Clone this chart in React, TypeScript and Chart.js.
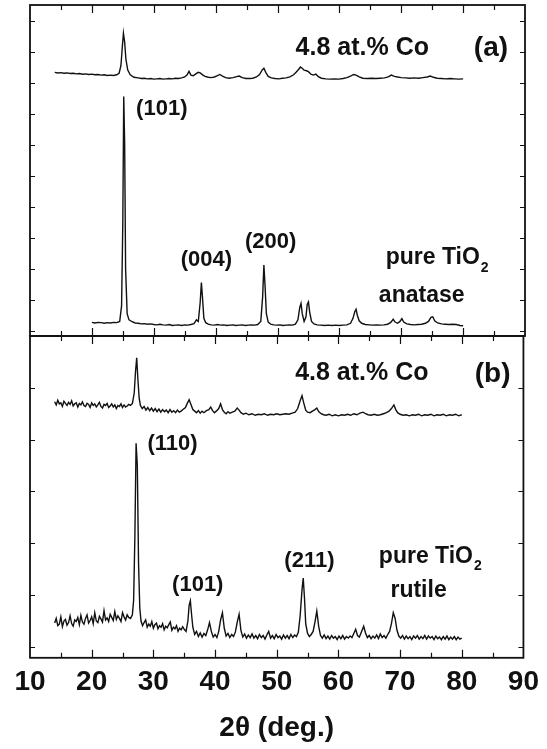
import React, { useEffect, useRef } from 'react';
import { Chart, registerables } from 'chart.js';

Chart.register(...registerables);

const FONT = '"Liberation Sans", Arial, Helvetica, sans-serif';
const INK = '#111111';

// ---------- x axis ----------
const xMin = 10;
const xMax = 90;
const xTickStep = 10;
const xTickMarks = [15, 20, 25, 30, 35, 40, 45, 50, 55, 60, 65, 70, 75, 80, 85];

// ---------- panel (a): anatase ----------
const anataseCoX = [14.0, 14.5, 15.0, 15.5, 16.0, 16.5, 17.0, 17.5, 18.0, 18.5, 19.0, 19.5, 20.0, 20.5, 21.0, 21.5, 22.0, 22.5, 23.0, 23.5, 24.0, 24.4, 24.7, 24.9, 25.1, 25.3, 25.5, 25.8, 26.2, 26.8, 27.5, 28.0, 28.5, 29.0, 29.5, 30.0, 30.5, 31.0, 31.5, 32.0, 32.5, 33.0, 33.5, 34.0, 34.5, 35.0, 35.4, 35.7, 36.0, 36.4, 36.8, 37.2, 37.5, 37.9, 38.3, 38.8, 39.3, 39.8, 40.3, 40.7, 41.1, 41.6, 42.2, 42.8, 43.4, 43.8, 44.3, 44.9, 45.5, 46.0, 46.6, 47.1, 47.5, 47.8, 48.1, 48.5, 49.0, 49.6, 50.2, 50.8, 51.4, 52.0, 52.6, 53.0, 53.4, 53.7, 54.0, 54.3, 54.7, 55.0, 55.4, 55.8, 56.2, 56.6, 57.1, 57.8, 58.5, 59.2, 59.9, 60.6, 61.2, 61.8, 62.3, 62.7, 63.2, 63.8, 64.5, 65.2, 65.9, 66.6, 67.3, 67.9, 68.4, 68.9, 69.4, 70.0, 70.7, 71.4, 72.1, 72.8, 73.5, 74.2, 74.7, 75.2, 75.8, 76.5, 77.2, 77.9, 78.6, 79.3, 80.0];
const anataseCoY = [8.33, 8.31, 8.32, 8.30, 8.31, 8.29, 8.30, 8.28, 8.29, 8.27, 8.28, 8.26, 8.27, 8.25, 8.26, 8.24, 8.25, 8.23, 8.24, 8.23, 8.25, 8.30, 8.55, 9.10, 9.59, 9.30, 8.75, 8.40, 8.25, 8.17, 8.15, 8.13, 8.14, 8.12, 8.13, 8.11, 8.12, 8.13, 8.11, 8.12, 8.13, 8.12, 8.14, 8.13, 8.15, 8.18, 8.25, 8.36, 8.24, 8.22, 8.28, 8.33, 8.31, 8.25, 8.20, 8.17, 8.16, 8.18, 8.22, 8.26, 8.21, 8.16, 8.14, 8.16, 8.19, 8.21, 8.16, 8.13, 8.13, 8.14, 8.18, 8.26, 8.40, 8.46, 8.33, 8.20, 8.15, 8.13, 8.12, 8.14, 8.15, 8.18, 8.25, 8.33, 8.42, 8.50, 8.46, 8.40, 8.38, 8.35, 8.27, 8.24, 8.27, 8.19, 8.14, 8.12, 8.11, 8.12, 8.11, 8.13, 8.16, 8.21, 8.26, 8.24, 8.18, 8.14, 8.13, 8.14, 8.13, 8.14, 8.15, 8.18, 8.24, 8.20, 8.18, 8.16, 8.15, 8.14, 8.15, 8.14, 8.16, 8.18, 8.21, 8.17, 8.14, 8.13, 8.12, 8.13, 8.12, 8.11, 8.12];

const anataseX = [20.0, 20.5, 21.0, 21.5, 22.0, 22.5, 23.0, 23.5, 24.0, 24.5, 24.8, 25.0, 25.15, 25.3, 25.45, 25.7, 26.0, 26.5, 27.0, 27.5, 28.0, 28.5, 29.0, 29.5, 30.0, 30.5, 31.0, 31.5, 32.0, 32.5, 33.0, 33.5, 34.0, 34.5, 35.0, 35.5, 36.0, 36.5, 36.9, 37.2, 37.5, 37.7, 37.9, 38.1, 38.4, 38.8, 39.3, 39.8, 40.3, 40.8, 41.3, 41.8, 42.3, 42.8, 43.3, 43.8, 44.3, 44.8, 45.3, 45.8, 46.3, 46.8, 47.3, 47.6, 47.8, 48.0, 48.2, 48.5, 48.9, 49.4, 49.9, 50.4, 50.9, 51.4, 51.9, 52.4, 52.9, 53.3, 53.6, 53.8, 54.0, 54.3, 54.6, 54.8, 55.0, 55.2, 55.5, 55.9, 56.4, 57.0, 57.6, 58.2, 58.8, 59.4, 60.0, 60.6, 61.2, 61.8, 62.2, 62.5, 62.7, 62.9, 63.2, 63.6, 64.2, 64.8, 65.4, 66.0, 66.6, 67.2, 67.8, 68.3, 68.7, 69.0, 69.4, 69.8, 70.1, 70.4, 70.9, 71.5, 72.1, 72.7, 73.3, 73.9, 74.4, 74.8, 75.1, 75.4, 75.9, 76.5, 77.1, 77.7, 78.3, 78.9, 79.5, 80.0];
const anataseY = [0.27, 0.25, 0.27, 0.26, 0.24, 0.26, 0.25, 0.27, 0.26, 0.30, 0.80, 3.50, 7.55, 6.00, 2.00, 0.55, 0.35, 0.29, 0.25, 0.24, 0.22, 0.23, 0.21, 0.22, 0.20, 0.19, 0.21, 0.19, 0.18, 0.20, 0.17, 0.18, 0.19, 0.17, 0.19, 0.18, 0.20, 0.23, 0.35, 0.30, 0.90, 1.55, 1.00, 0.40, 0.26, 0.21, 0.19, 0.18, 0.20, 0.18, 0.19, 0.17, 0.18, 0.19, 0.17, 0.18, 0.19, 0.17, 0.18, 0.19, 0.18, 0.20, 0.30, 1.10, 2.12, 1.40, 0.55, 0.28, 0.21, 0.19, 0.18, 0.19, 0.17, 0.18, 0.19, 0.18, 0.21, 0.35, 0.75, 0.88, 0.55, 0.30, 0.45, 0.85, 0.93, 0.60, 0.30, 0.22, 0.19, 0.18, 0.17, 0.18, 0.17, 0.18, 0.17, 0.18, 0.19, 0.24, 0.40, 0.62, 0.69, 0.50, 0.32, 0.24, 0.20, 0.19, 0.18, 0.19, 0.18, 0.19, 0.21, 0.27, 0.37, 0.28, 0.24, 0.30, 0.39, 0.28, 0.22, 0.20, 0.19, 0.20, 0.21, 0.24, 0.30, 0.43, 0.45, 0.32, 0.25, 0.22, 0.21, 0.20, 0.21, 0.20, 0.17, 0.16];

const panelAMin = -0.17;
const panelAMax = 10.5;
const panelATicks = [0, 1, 2, 3, 4, 5, 6, 7, 8, 9, 10];

// ---------- panel (b): rutile ----------
const rutileCoX = [14.0, 14.25, 14.5, 14.75, 15.0, 15.25, 15.5, 15.75, 16.0, 16.25, 16.5, 16.75, 17.0, 17.25, 17.5, 17.75, 18.0, 18.25, 18.5, 18.75, 19.0, 19.25, 19.5, 19.75, 20.0, 20.25, 20.5, 20.75, 21.0, 21.25, 21.5, 21.75, 22.0, 22.25, 22.5, 22.75, 23.0, 23.25, 23.5, 23.75, 24.0, 24.25, 24.5, 24.75, 25.0, 25.25, 25.5, 25.75, 26.0, 26.3, 26.6, 26.9, 27.1, 27.3, 27.5, 27.7, 27.9, 28.2, 28.5, 28.8, 29.1, 29.4, 29.7, 30.0, 30.3, 30.6, 30.9, 31.2, 31.5, 31.8, 32.1, 32.4, 32.7, 33.0, 33.3, 33.6, 33.9, 34.2, 34.5, 34.8, 35.2, 35.5, 35.8, 36.1, 36.4, 36.7, 37.0, 37.3, 37.6, 37.9, 38.2, 38.6, 39.0, 39.3, 39.6, 39.9, 40.2, 40.6, 40.9, 41.2, 41.5, 41.8, 42.1, 42.4, 42.8, 43.2, 43.6, 43.9, 44.2, 44.6, 45.0, 45.5, 46.0, 46.5, 47.0, 47.5, 48.0, 48.5, 49.0, 49.5, 50.0, 50.5, 51.0, 51.5, 52.0, 52.5, 53.0, 53.4, 53.8, 54.1, 54.4, 54.7, 55.0, 55.4, 55.8, 56.2, 56.5, 56.8, 57.2, 57.6, 58.0, 58.5, 59.0, 59.5, 60.0, 60.5, 61.0, 61.5, 62.0, 62.5, 63.0, 63.5, 64.0, 64.4, 64.8, 65.3, 65.8, 66.3, 66.8, 67.3, 67.8, 68.2, 68.6, 69.0, 69.3, 69.6, 70.0, 70.5, 71.0, 71.5, 72.0, 72.5, 73.0, 73.5, 74.0, 74.5, 75.0, 75.5, 76.0, 76.5, 77.0, 77.5, 78.0, 78.5, 79.0, 79.5, 80.0];
const rutileCoY = [4.73, 4.67, 4.76, 4.69, 4.71, 4.64, 4.74, 4.70, 4.66, 4.72, 4.68, 4.75, 4.65, 4.69, 4.71, 4.63, 4.70, 4.67, 4.73, 4.66, 4.64, 4.70, 4.68, 4.62, 4.71, 4.66, 4.69, 4.63, 4.67, 4.72, 4.64, 4.61, 4.68, 4.66, 4.70, 4.62, 4.65, 4.69, 4.63, 4.67, 4.60, 4.66, 4.64, 4.69, 4.62, 4.67, 4.63, 4.65, 4.68, 4.66, 4.70, 4.90, 5.30, 5.58, 5.15, 4.80, 4.66, 4.60, 4.64, 4.57, 4.62, 4.56, 4.61, 4.55, 4.60, 4.54, 4.59, 4.53, 4.58, 4.54, 4.57, 4.52, 4.58, 4.53, 4.56, 4.52, 4.57, 4.53, 4.55, 4.58, 4.62, 4.70, 4.77, 4.68, 4.58, 4.55, 4.52, 4.56, 4.51, 4.55, 4.52, 4.56, 4.58, 4.63, 4.56, 4.52, 4.55, 4.60, 4.69, 4.58, 4.53, 4.50, 4.54, 4.51, 4.53, 4.55, 4.61, 4.57, 4.52, 4.49, 4.51, 4.48, 4.50, 4.47, 4.49, 4.48, 4.50, 4.47, 4.49, 4.48, 4.50, 4.48, 4.49, 4.50, 4.49, 4.51, 4.53, 4.60, 4.75, 4.85, 4.70, 4.57, 4.53, 4.52, 4.55, 4.58, 4.61, 4.54, 4.50, 4.48, 4.47, 4.49, 4.46, 4.48, 4.46, 4.48, 4.47, 4.49, 4.47, 4.50, 4.48, 4.51, 4.53, 4.50, 4.48, 4.47, 4.49, 4.47, 4.48, 4.50, 4.52, 4.55, 4.60, 4.67, 4.58, 4.52, 4.49, 4.47, 4.48, 4.46, 4.48, 4.47, 4.49, 4.46, 4.48, 4.47, 4.49, 4.46, 4.48, 4.47, 4.49, 4.46, 4.48, 4.47, 4.49, 4.46, 4.48];

const rutileX = [14.0, 14.25, 14.5, 14.75, 15.0, 15.25, 15.5, 15.75, 16.0, 16.25, 16.5, 16.75, 17.0, 17.25, 17.5, 17.75, 18.0, 18.25, 18.5, 18.75, 19.0, 19.25, 19.5, 19.75, 20.0, 20.25, 20.5, 20.75, 21.0, 21.25, 21.5, 21.75, 22.0, 22.25, 22.5, 22.75, 23.0, 23.25, 23.5, 23.75, 24.0, 24.25, 24.5, 24.75, 25.0, 25.25, 25.5, 25.75, 26.0, 26.3, 26.6, 26.8, 27.0, 27.2, 27.4, 27.6, 27.8, 28.0, 28.25, 28.5, 28.75, 29.0, 29.25, 29.5, 29.75, 30.0, 30.25, 30.5, 30.75, 31.0, 31.25, 31.5, 31.75, 32.0, 32.25, 32.5, 32.75, 33.0, 33.25, 33.5, 33.75, 34.0, 34.25, 34.5, 34.75, 35.0, 35.3, 35.6, 35.8, 36.0, 36.2, 36.4, 36.7, 37.0, 37.3, 37.6, 37.9, 38.2, 38.5, 38.8, 39.1, 39.4, 39.7, 40.0, 40.3, 40.6, 40.9, 41.2, 41.5, 41.8, 42.1, 42.4, 42.7, 43.0, 43.3, 43.6, 43.9, 44.2, 44.5, 44.8, 45.1, 45.4, 45.7, 46.0, 46.3, 46.6, 46.9, 47.2, 47.5, 47.8, 48.1, 48.4, 48.7, 49.0, 49.3, 49.6, 49.9, 50.2, 50.5, 50.8, 51.1, 51.4, 51.7, 52.0, 52.3, 52.6, 52.9, 53.2, 53.5, 53.8, 54.1, 54.3, 54.5, 54.7, 55.0, 55.3, 55.6, 55.9, 56.2, 56.5, 56.8, 57.1, 57.4, 57.7, 58.0, 58.3, 58.6, 58.9, 59.2, 59.5, 59.8, 60.1, 60.4, 60.7, 61.0, 61.3, 61.6, 61.9, 62.2, 62.5, 62.8, 63.1, 63.4, 63.7, 64.1, 64.4, 64.7, 65.0, 65.3, 65.6, 65.9, 66.2, 66.5, 66.8, 67.1, 67.4, 67.7, 68.0, 68.3, 68.6, 68.9, 69.2, 69.5, 69.8, 70.1, 70.4, 70.7, 71.0, 71.3, 71.6, 71.9, 72.2, 72.5, 72.8, 73.1, 73.4, 73.7, 74.0, 74.3, 74.6, 74.9, 75.2, 75.5, 75.8, 76.1, 76.4, 76.7, 77.0, 77.3, 77.6, 77.9, 78.2, 78.5, 78.8, 79.1, 79.4, 79.7, 80.0];
const rutileY = [0.46, 0.55, 0.41, 0.44, 0.58, 0.39, 0.50, 0.53, 0.42, 0.47, 0.60, 0.45, 0.40, 0.52, 0.49, 0.57, 0.43, 0.61, 0.48, 0.44, 0.55, 0.62, 0.46, 0.51, 0.58, 0.45, 0.66, 0.50, 0.47, 0.59, 0.54, 0.48, 0.70, 0.52, 0.56, 0.49, 0.63, 0.57, 0.51, 0.68, 0.53, 0.60, 0.55, 0.49, 0.66, 0.58, 0.52, 0.62, 0.57, 0.55, 0.62, 0.90, 2.10, 3.93, 3.50, 1.60, 0.75, 0.50, 0.41, 0.47, 0.52, 0.38, 0.44, 0.40, 0.49, 0.36, 0.43, 0.46, 0.35, 0.41, 0.38, 0.45, 0.33, 0.40, 0.37, 0.43, 0.48, 0.32, 0.38, 0.35, 0.41, 0.30, 0.36, 0.33, 0.39, 0.34, 0.30, 0.50, 0.80, 0.89, 0.62, 0.38, 0.24, 0.30, 0.20, 0.27, 0.19, 0.26, 0.22, 0.33, 0.47, 0.30, 0.19, 0.24, 0.18, 0.30, 0.52, 0.66, 0.36, 0.21, 0.26, 0.18, 0.24, 0.20, 0.29, 0.48, 0.63, 0.32, 0.19, 0.25, 0.17, 0.23, 0.18, 0.25, 0.17, 0.22, 0.16, 0.24, 0.18, 0.22, 0.15, 0.23, 0.30, 0.17, 0.22, 0.16, 0.24, 0.18, 0.21, 0.15, 0.23, 0.17, 0.22, 0.16, 0.24, 0.18, 0.23, 0.20, 0.28, 0.60, 1.10, 1.33, 0.95, 0.45, 0.26, 0.20, 0.24, 0.30, 0.48, 0.69, 0.40, 0.22, 0.17, 0.23, 0.16, 0.21, 0.15, 0.22, 0.17, 0.20, 0.14, 0.21, 0.16, 0.22, 0.15, 0.20, 0.17, 0.21, 0.18, 0.26, 0.34, 0.22, 0.19, 0.28, 0.40, 0.27, 0.18, 0.22, 0.16, 0.21, 0.17, 0.23, 0.16, 0.25, 0.18, 0.22, 0.17, 0.24, 0.30, 0.45, 0.66, 0.55, 0.32, 0.21, 0.17, 0.22, 0.15, 0.21, 0.16, 0.20, 0.14, 0.21, 0.17, 0.22, 0.15, 0.20, 0.16, 0.22, 0.15, 0.21, 0.17, 0.20, 0.14, 0.21, 0.16, 0.19, 0.14, 0.20, 0.15, 0.21, 0.14, 0.19, 0.15, 0.20, 0.14, 0.19, 0.15, 0.17];

const panelBMin = -0.21;
const panelBMax = 6.0;
const panelBTicks = [0, 1, 2, 3, 4, 5];

// ---------- annotations ----------
type Note = { text: string; sub?: string; x: number; y: number; size: number };

const panelANotes: Note[] = [
  { text: '4.8 at.% Co', x: 63.7, y: 9.12, size: 25 },
  { text: '(a)', x: 84.5, y: 9.1, size: 28 },
  { text: '(101)', x: 31.3, y: 7.15, size: 22 },
  { text: '(004)', x: 38.5, y: 2.28, size: 22 },
  { text: '(200)', x: 48.9, y: 2.86, size: 22 },
  { text: 'pure TiO', sub: '2', x: 75.8, y: 2.34, size: 23 },
  { text: 'anatase', x: 73.3, y: 1.12, size: 23 },
];

const panelBNotes: Note[] = [
  { text: '4.8 at.% Co', x: 63.8, y: 5.28, size: 25 },
  { text: '(b)', x: 85.0, y: 5.26, size: 28 },
  { text: '(110)', x: 33.1, y: 3.91, size: 22 },
  { text: '(101)', x: 37.2, y: 1.2, size: 22 },
  { text: '(211)', x: 55.3, y: 1.66, size: 22 },
  { text: 'pure TiO', sub: '2', x: 74.9, y: 1.75, size: 23 },
  { text: 'rutile', x: 73.0, y: 1.08, size: 23 },
];

function toPoints(xs: number[], ys: number[]) {
  return xs.map((x, i) => ({ x, y: ys[i] }));
}

function panelPlugin(yTicks: number[], notes: Note[]) {
  return {
    id: 'panelDecor',
    afterDatasetsDraw(chart: any) {
      const { ctx, chartArea: a, scales } = chart;
      const xs = scales.x;
      const ys = scales.y;
      ctx.save();
      ctx.strokeStyle = INK;
      ctx.lineWidth = 1.2;
      ctx.beginPath();
      for (const v of xTickMarks) {
        const px = Math.round(xs.getPixelForValue(v)) + 0.5;
        const len = v % 10 === 0 ? 8 : 5;
        ctx.moveTo(px, a.top);
        ctx.lineTo(px, a.top + len);
        ctx.moveTo(px, a.bottom);
        ctx.lineTo(px, a.bottom - len);
      }
      for (const v of yTicks) {
        const py = Math.round(ys.getPixelForValue(v)) + 0.5;
        ctx.moveTo(a.left, py);
        ctx.lineTo(a.left + 5, py);
        ctx.moveTo(a.right, py);
        ctx.lineTo(a.right - 5, py);
      }
      ctx.stroke();
      ctx.lineWidth = 1.8;
      ctx.strokeRect(a.left, a.top, a.right - a.left, a.bottom - a.top);

      ctx.fillStyle = INK;
      ctx.textBaseline = 'middle';
      ctx.textAlign = 'left';
      for (const n of notes) {
        const cx = xs.getPixelForValue(n.x);
        const cy = ys.getPixelForValue(n.y);
        const mainFont = `bold ${n.size}px ${FONT}`;
        const subSize = Math.round(n.size * 0.6);
        const subFont = `bold ${subSize}px ${FONT}`;
        ctx.font = mainFont;
        const w1 = ctx.measureText(n.text).width;
        let w2 = 0;
        if (n.sub) {
          ctx.font = subFont;
          w2 = ctx.measureText(n.sub).width + 1;
        }
        const left = cx - (w1 + w2) / 2;
        ctx.font = mainFont;
        ctx.fillText(n.text, left, cy);
        if (n.sub) {
          ctx.font = subFont;
          ctx.fillText(n.sub, left + w1 + 1, cy + n.size * 0.45);
        }
      }
      ctx.restore();
    },
  };
}

const lineStyle = {
  borderColor: INK,
  borderWidth: 1.4,
  pointRadius: 0,
  fill: false,
  tension: 0,
};

export default function App() {
  const topRef = useRef<HTMLCanvasElement>(null);
  const bottomRef = useRef<HTMLCanvasElement>(null);

  useEffect(() => {
    const top = new Chart(topRef.current as HTMLCanvasElement, {
      type: 'line',
      data: {
        datasets: [
          { ...lineStyle, data: toPoints(anataseCoX, anataseCoY) },
          { ...lineStyle, data: toPoints(anataseX, anataseY) },
        ],
      },
      options: {
        responsive: false,
        animation: false,
        devicePixelRatio: 1,
        layout: { padding: { left: 30, right: 22, top: 5, bottom: 4 } },
        plugins: { legend: { display: false }, tooltip: { enabled: false } },
        scales: {
          x: { type: 'linear', min: xMin, max: xMax, display: false },
          y: { type: 'linear', min: panelAMin, max: panelAMax, display: false },
        },
      },
      plugins: [panelPlugin(panelATicks, panelANotes)],
    } as any);

    const bottom = new Chart(bottomRef.current as HTMLCanvasElement, {
      type: 'line',
      data: {
        datasets: [
          { ...lineStyle, data: toPoints(rutileCoX, rutileCoY) },
          { ...lineStyle, data: toPoints(rutileX, rutileY) },
        ],
      },
      options: {
        responsive: false,
        animation: false,
        devicePixelRatio: 1,
        layout: { padding: { left: 30, right: 22, top: 6, bottom: 4 } },
        plugins: { legend: { display: false }, tooltip: { enabled: false } },
        scales: {
          x: {
            type: 'linear',
            min: xMin,
            max: xMax,
            grid: { display: false, drawTicks: false },
            border: { display: false },
            ticks: {
              stepSize: xTickStep,
              autoSkip: false,
              maxRotation: 0,
              padding: 8,
              color: INK,
              font: { family: FONT, size: 28, weight: 'bold' },
            },
            title: {
              display: true,
              text: '2θ (deg.)',
              color: INK,
              padding: { top: 4, bottom: 0 },
              font: { family: FONT, size: 28, weight: 'bold' },
            },
          },
          y: { type: 'linear', min: panelBMin, max: panelBMax, display: false },
        },
      },
      plugins: [panelPlugin(panelBTicks, panelBNotes)],
    } as any);

    return () => {
      top.destroy();
      bottom.destroy();
    };
  }, []);

  return (
    <div style={{ position: 'absolute', left: 0, top: 0, width: 547, height: 749, background: '#fff' }}>
      <canvas
        ref={topRef}
        width={547}
        height={340}
        style={{ position: 'absolute', left: 0, top: 0, width: 547, height: 340 }}
      />
      <canvas
        ref={bottomRef}
        width={547}
        height={419}
        style={{ position: 'absolute', left: 0, top: 330, width: 547, height: 419 }}
      />
    </div>
  );
}
